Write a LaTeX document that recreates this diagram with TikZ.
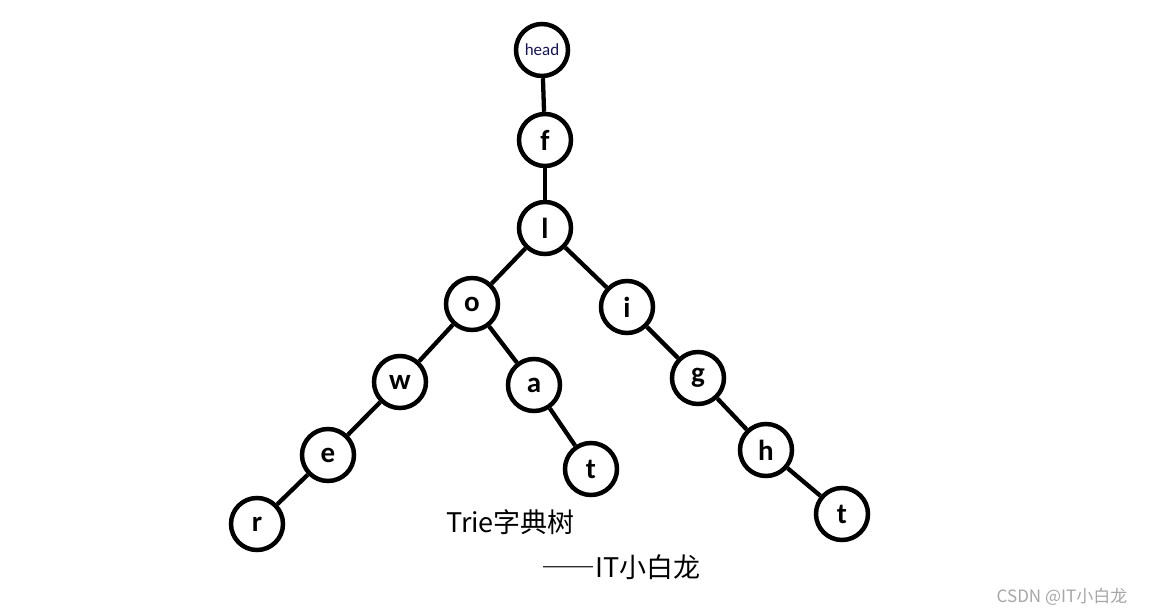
\documentclass[tikz,border=0pt]{standalone}
\usepackage{fontspec}
\setmainfont{Carlito}
\newfontfamily\cjk{Noto Sans CJK SC}
\newfontfamily\cjkwide[RawFeature=+fwid]{Noto Sans CJK SC}
\definecolor{headblue}{RGB}{20,20,80}
\begin{document}
\begin{tikzpicture}[x=1pt,y=-1pt,
    letter/.style={circle,draw,line width=4.5pt,minimum size=52pt,inner sep=0pt,
      font=\fontsize{29}{29}\selectfont\bfseries},
    edge/.style={line width=4.3pt}]
    \useasboundingbox (0,0) rectangle (1152,615);
    % nodes of the trie
    \node[letter,font=\fontsize{17}{17}\selectfont,text=headblue] (head) at (542,50) {head};
    \node[letter] (f) at (545,140) {f};
    \node[letter] (l) at (545,228) {l};
    \node[letter] (o) at (472,304) {o};
    \node[letter] (i) at (627,307) {i};
    \node[letter] (w) at (400,382) {w};
    \node[letter] (a) at (534,385) {a};
    \node[letter] (g) at (698,378) {g};
    \node[letter] (e) at (328,455) {e};
    \node[letter] (t1) at (591,469) {t};
    \node[letter] (h) at (766,450) {h};
    \node[letter] (r) at (257,524) {r};
    \node[letter] (t2) at (842,514) {t};
    % edges
    \draw[edge] (head) -- (f);
    \draw[edge] (f) -- (l);
    \draw[edge] (l) -- (o);
    \draw[edge] (l) -- (i);
    \draw[edge] (o) -- (w);
    \draw[edge] (o) -- (a);
    \draw[edge] (w) -- (e);
    \draw[edge] (e) -- (r);
    \draw[edge] (a) -- (t1);
    \draw[edge] (i) -- (g);
    \draw[edge] (g) -- (h);
    \draw[edge] (h) -- (t2);
    % captions
    \node[font=\cjk\fontsize{27}{27}\selectfont,anchor=west,inner sep=0pt] (title) at (446,522) {Trie字典树};
    \node[font=\cjk\fontsize{27}{27}\selectfont,anchor=west,inner sep=0pt] (author) at (541,567) {{\cjkwide ——}IT小白龙};
    \node[font=\cjk\fontsize{17}{17}\selectfont,text=gray!70,inner sep=0pt] (mark) at (1062,597) {CSDN @IT小白龙};
\end{tikzpicture}
\end{document}
